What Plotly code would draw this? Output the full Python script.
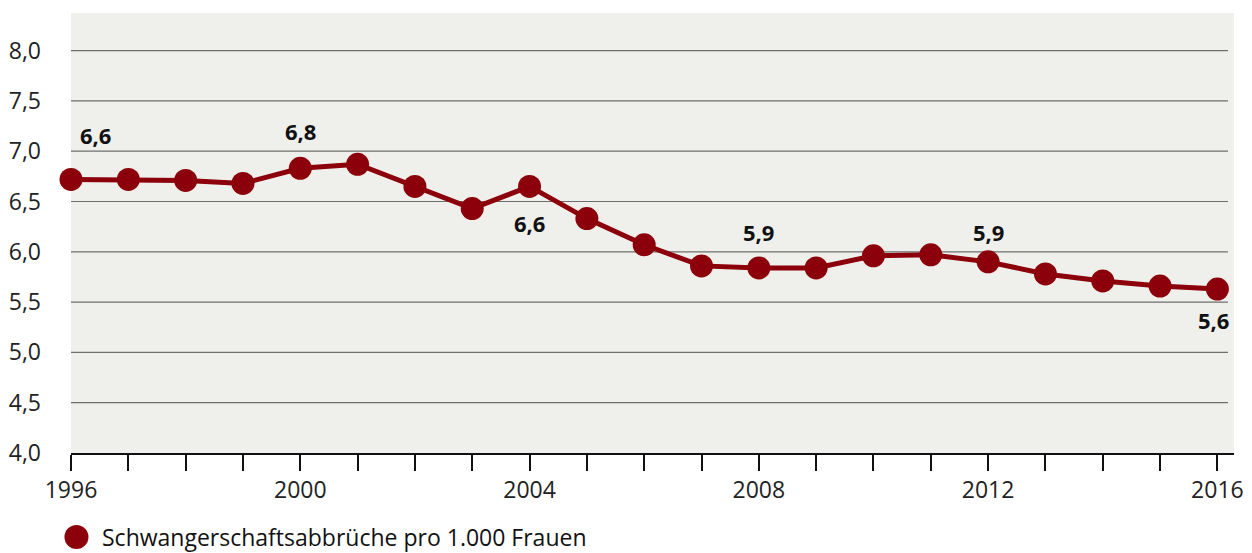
import plotly.graph_objects as go

years = list(range(1996, 2017))
values = [6.72, 6.72, 6.71, 6.68, 6.83, 6.87, 6.65, 6.43, 6.65, 6.33, 6.07,
          5.86, 5.84, 5.84, 5.96, 5.97, 5.90, 5.78, 5.71, 5.66, 5.63]

label_years = [1996, 2000, 2004, 2008, 2012, 2016]
label_texts = ["6,6", "6,8", "6,6", "5,9", "5,9", "5,6"]

y_ticks = [4.0, 4.5, 5.0, 5.5, 6.0, 6.5, 7.0, 7.5, 8.0]
x_label_years = [1996, 2000, 2004, 2008, 2012, 2016]

series_name = "Schwangerschaftsabbrüche pro 1.000 Frauen"
red = "#8B000A"
font_family = "Open Sans"

# label placement (pixel offsets from the point)
label_offsets = {1996: (24, 44), 2000: (0, 37), 2004: (0, -37),
                 2008: (0, 36), 2012: (0, 30), 2016: (-4, -31)}

fig = go.Figure()
fig.add_trace(go.Scatter(
    x=years, y=values, mode="lines+markers",
    line=dict(color=red, width=5),
    marker=dict(color=red, size=23),
    cliponaxis=False, showlegend=False, hoverinfo="skip",
))

annotations = []
for yr, txt in zip(label_years, label_texts):
    v = values[years.index(yr)]
    xs, ys = label_offsets[yr]
    annotations.append(dict(
        x=yr, y=v, xref="x", yref="y", text=txt, showarrow=False,
        font=dict(family=font_family, size=22, color="#111111", weight="bold"),
        yshift=ys, xshift=xs,
    ))

# legend
annotations.append(dict(
    x=0.0249, y=-0.191, xref="paper", yref="paper", xanchor="left", yanchor="middle",
    text=series_name, showarrow=False,
    font=dict(family=font_family, size=23, color="#111111"),
))

shapes = [dict(
    type="circle", xref="paper", yref="paper",
    xsizemode="pixel", ysizemode="pixel",
    xanchor=0.0047, yanchor=-0.191,
    x0=-12, x1=12, y0=-12, y1=12,
    fillcolor=red, line=dict(width=0),
)]
for t in y_ticks[1:]:
    shapes.append(dict(
        type="line", xref="paper", yref="y", x0=0, x1=0.9948, y0=t, y1=t,
        line=dict(color="#6e6e6e", width=1.2), layer="below",
    ))

fig.update_layout(
    width=1252, height=553,
    margin=dict(l=71, r=18, t=13, b=100),
    paper_bgcolor="white", plot_bgcolor="#efefeb",
    separators=",.",
    font=dict(family=font_family, size=23, color="#222222"),
    annotations=annotations, shapes=shapes,
    xaxis=dict(
        range=[1996, 2016.29], tickvals=years,
        ticktext=[str(y) if y in x_label_years else "" for y in years],
        ticks="outside", ticklen=16, tickwidth=1.5, tickcolor="#111111",
        showline=True, linecolor="#111111", linewidth=1.5,
        showgrid=False, zeroline=False, automargin=False,
        tickfont=dict(size=23, color="#222222"),
    ),
    yaxis=dict(
        range=[4.0, 8.374], tickvals=y_ticks, tickformat=".1f",
        showgrid=False, zeroline=False, showline=False, ticks="",
        ticklabelstandoff=29, automargin=False,
        tickfont=dict(size=23, color="#222222"),
    ),
)

fig.write_html("out.html", config={"displayModeBar": False},
               post_script="document.body.style.margin='0';")
